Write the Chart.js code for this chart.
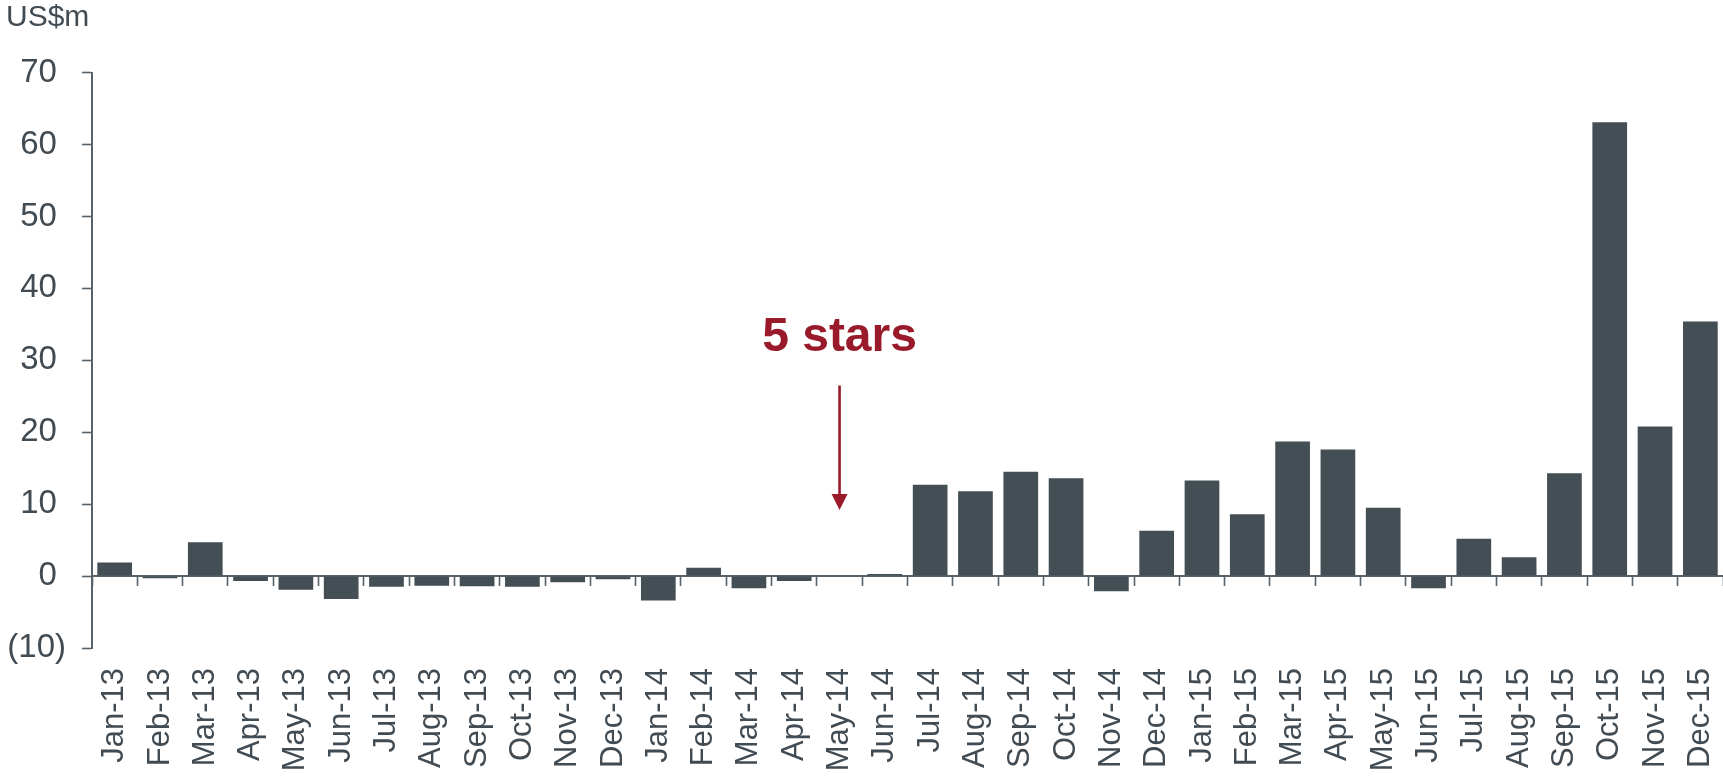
<!DOCTYPE html>
<html>
<head>
<meta charset="utf-8">
<script src="https://cdn.jsdelivr.net/npm/chart.js@4"></script>
<style>
  html, body { margin: 0; padding: 0; background: #fff; }
  #wrap { width: 1723px; height: 778px; position: relative; }
</style>
</head>
<body>
<div id="wrap"><canvas id="flowChart"></canvas></div>
<script>
// Monthly values, US$m
const months = [
    'Jan-13', 'Feb-13', 'Mar-13', 'Apr-13', 'May-13', 'Jun-13',
    'Jul-13', 'Aug-13', 'Sep-13', 'Oct-13', 'Nov-13', 'Dec-13',
    'Jan-14', 'Feb-14', 'Mar-14', 'Apr-14', 'May-14', 'Jun-14',
    'Jul-14', 'Aug-14', 'Sep-14', 'Oct-14', 'Nov-14', 'Dec-14',
    'Jan-15', 'Feb-15', 'Mar-15', 'Apr-15', 'May-15', 'Jun-15',
    'Jul-15', 'Aug-15', 'Sep-15', 'Oct-15', 'Nov-15', 'Dec-15'
];
const flows = [
    1.9, -0.3, 4.7, -0.7, -1.9, -3.2,
    -1.5, -1.35, -1.4, -1.5, -0.85, -0.45,
    -3.4, 1.15, -1.7, -0.7, 0, 0.3,
    12.7, 11.8, 14.5, 13.6, -2.1, 6.3,
    13.3, 8.6, 18.7, 17.6, 9.5, -1.7,
    5.2, 2.6, 14.3, 63.1, 20.8, 35.4
];
const yTicks = { min: -10, max: 70, step: 10 };

// annotation: label + arrow pointing at the rating month
const note = { text: '5 stars', month: 'May-14', textAt: 31.3, arrowFrom: 26.5, arrowTo: 9.2 };

const textColor = '#414b53';
const barColor = '#444e55';
const axisColor = '#58626a';
const noteColor = '#991b2b';
const fontFamily = '"Liberation Sans", Arial, Helvetica, sans-serif';

const notePlugin = {
    id: 'note',
    afterDraw(chart) {
        const x = chart.scales.x.getPixelForValue(months.indexOf(note.month));
        const y = chart.scales.y;
        const ctx = chart.ctx;
        ctx.save();
        ctx.fillStyle = noteColor;
        ctx.strokeStyle = noteColor;
        ctx.font = 'bold 48px ' + fontFamily;
        ctx.textAlign = 'center';
        ctx.textBaseline = 'alphabetic';
        ctx.fillText(note.text, x, y.getPixelForValue(note.textAt));

        const y1 = y.getPixelForValue(note.arrowFrom);
        const y2 = y.getPixelForValue(note.arrowTo);
        const head = 16;
        ctx.lineWidth = 2.6;
        ctx.beginPath();
        ctx.moveTo(x, y1);
        ctx.lineTo(x, y2 - head + 2);
        ctx.stroke();
        ctx.beginPath();
        ctx.moveTo(x - 8, y2 - head);
        ctx.lineTo(x + 8, y2 - head);
        ctx.lineTo(x, y2);
        ctx.closePath();
        ctx.fill();
        ctx.restore();
    }
};

const ctx = document.getElementById('flowChart');
new Chart(ctx, {
    type: 'bar',
    data: {
        labels: months,
        datasets: [{
            label: 'US$m',
            data: flows,
            backgroundColor: barColor,
            barPercentage: 0.766,
            categoryPercentage: 1
        }]
    },
    options: {
        responsive: true,
        maintainAspectRatio: false,
        animation: false,
        layout: { padding: { left: 6, right: 0, top: 0, bottom: 0 } },
        plugins: {
            legend: { display: false },
            tooltip: { enabled: false },
            title: {
                display: true,
                text: 'US$m',
                align: 'start',
                color: textColor,
                font: { family: fontFamily, size: 30, weight: 'normal' },
                padding: { top: 0, bottom: 36.6 }
            }
        },
        scales: {
            x: {
                offset: true,
                grid: { display: false, drawTicks: false },
                border: { display: false },
                ticks: {
                    autoSkip: false,
                    maxRotation: 90,
                    minRotation: 90,
                    padding: 20,
                    color: textColor,
                    font: { family: fontFamily, size: 31 }
                },
                afterFit: (scale) => {
                    scale.paddingLeft = 0;
                    scale.paddingRight = 0;
                    scale.height = 130;
                }
            },
            // axis line through zero with the category tick marks
            x0: {
                axis: 'x',
                type: 'category',
                labels: months,
                position: { y: 0 },
                offset: true,
                z: 1,
                grid: {
                    display: true,
                    offset: true,
                    drawOnChartArea: false,
                    drawTicks: true,
                    tickLength: 9,
                    tickWidth: 1.6,
                    tickColor: axisColor
                },
                border: { display: true, color: axisColor, width: 2 },
                ticks: { display: false }
            },
            y: {
                min: yTicks.min,
                max: yTicks.max,
                grid: {
                    display: true,
                    drawOnChartArea: false,
                    drawTicks: true,
                    tickLength: 10,
                    tickWidth: 1.6,
                    tickColor: axisColor
                },
                border: { display: true, color: axisColor, width: 2 },
                ticks: {
                    stepSize: yTicks.step,
                    padding: 16,
                    color: textColor,
                    font: { family: fontFamily, size: 33 },
                    callback: (v) => v < 0 ? '(' + (-v) + ')' : v + ' '
                },
                afterFit: (scale) => { scale.width = 86; }
            }
        }
    },
    plugins: [notePlugin]
});
</script>
</body>
</html>
